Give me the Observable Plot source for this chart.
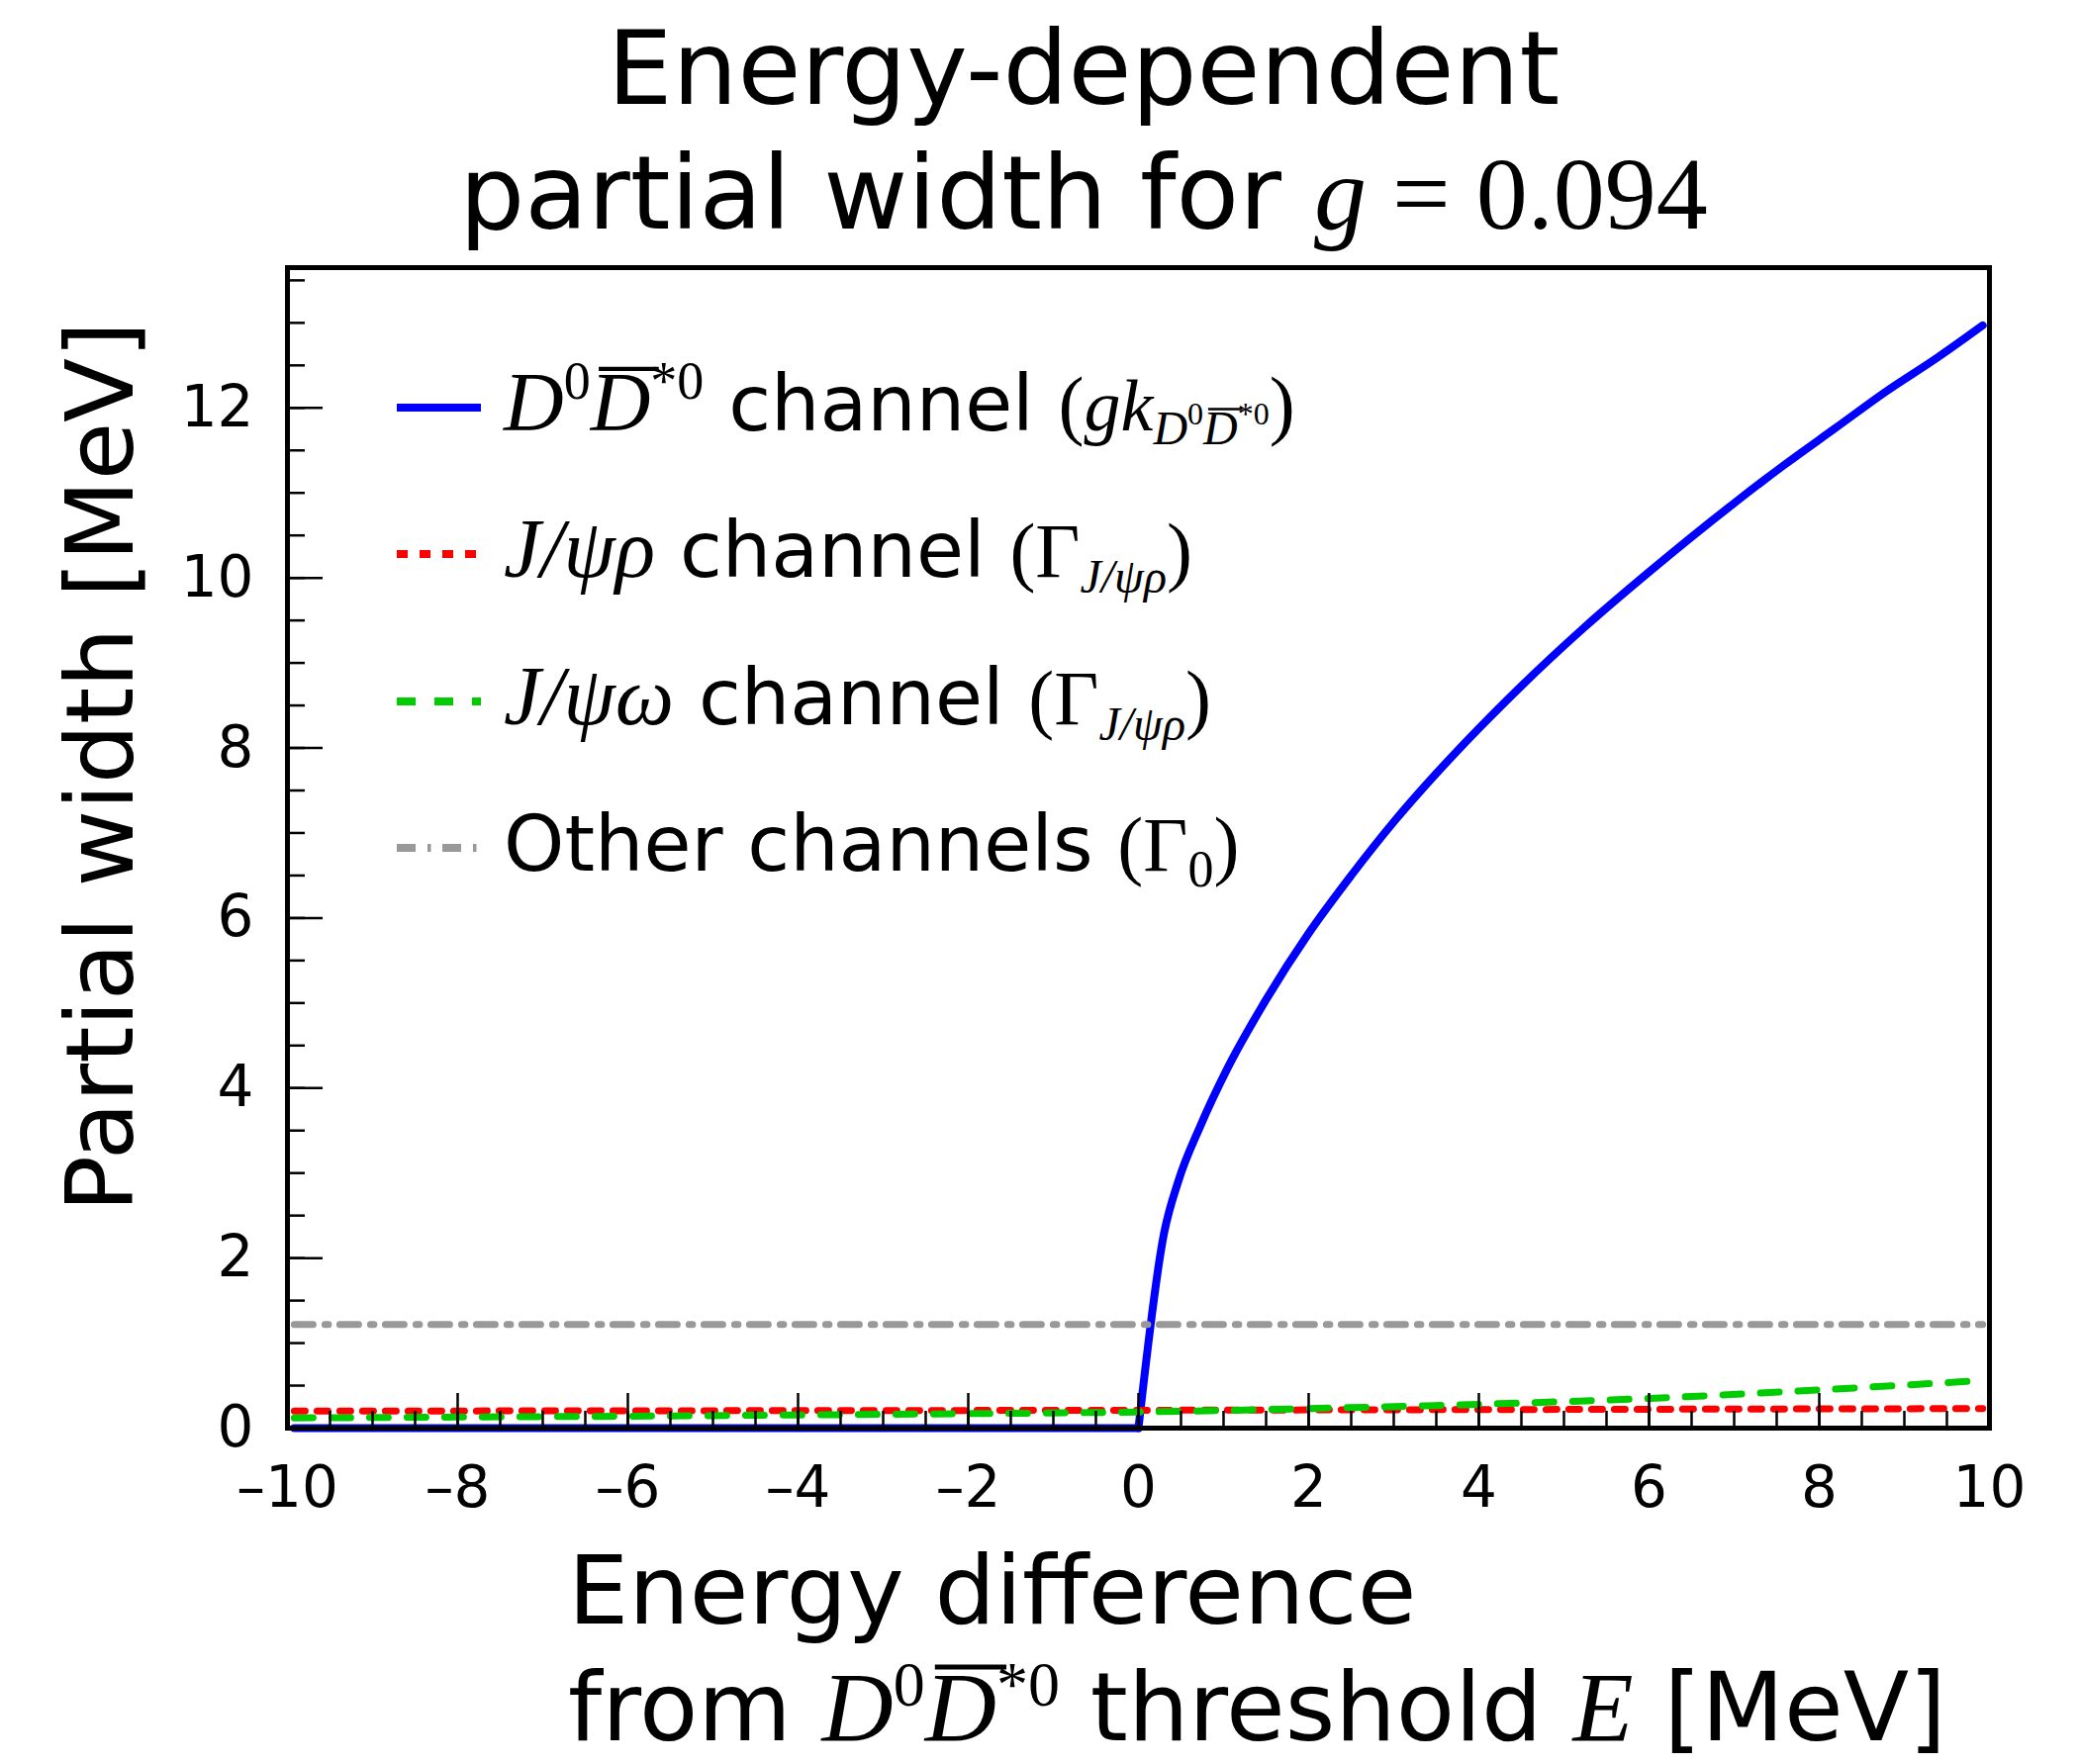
<!DOCTYPE html>
<html>
<head>
<meta charset="utf-8">
<script src="https://cdn.jsdelivr.net/npm/d3@7"></script>
<script src="https://cdn.jsdelivr.net/npm/@observablehq/plot@0.6"></script>
<style>
  html, body { margin: 0; padding: 0; background: white; }
  #chart svg { display: block; }
</style>
</head>
<body>
<div id="chart"></div>
<script>
// ---- data ----
const energyD = [-9.92, 0, 0.3, 0.47, 0.73, 1.05, 1.5, 2.0, 2.5, 3.0, 3.5, 4.0, 4.5, 5.23, 6.0, 7.0, 7.59, 8.2, 8.78, 9.4, 9.92];
const widthD  = [0, 0, 2.29, 2.91, 3.56, 4.24, 5.04, 5.82, 6.5, 7.13, 7.7, 8.23, 8.73, 9.41, 10.07, 10.88, 11.33, 11.77, 12.19, 12.6, 12.97];

const energyRho = [-9.92, -5, 0, 5, 9.92];
const widthRho  = [0.20, 0.205, 0.21, 0.22, 0.23];

const energyOmega = [-9.92, -8, -6, -4, -2, 0, 2, 4, 6, 8, 9.92];
const widthOmega  = [0.12, 0.13, 0.14, 0.155, 0.17, 0.19, 0.23, 0.28, 0.35, 0.45, 0.56];

const energyOther = [-9.92, 9.92];
const widthOther  = [1.22, 1.22];

const xTicks = [-10, -8, -6, -4, -2, 0, 2, 4, 6, 8, 10];
const yTicks = [0, 2, 4, 6, 8, 10, 12];
const xMinor = d3.range(-10, 10.001, 0.5);
const yMinor = d3.range(0, 13.6, 0.5);

// ---- layout ----
const W = 2102, H = 1783;
const mL = 290, mR = 92, mT = 270, mB = 340;
const fw = W - mL - mR, fh = H - mT - mB;

const SANS = "DejaVu Sans";
const SERIF = "Liberation Serif";

const blueStyle = {stroke: "#0000ff", strokeWidth: 8};

const plot = Plot.plot({
  width: W, height: H,
  marginLeft: mL, marginRight: mR, marginTop: mT, marginBottom: mB,
  x: {domain: [-10, 10]},
  y: {domain: [0, 13.65]},
  style: {fontFamily: SANS, background: "white", color: "black"},
  marks: [
    // below threshold (flat) and above threshold (rising) parts of the same series
    Plot.line(energyD, {x: energyD, y: widthD, filter: (d, i) => energyD[i] <= 0, ...blueStyle}),
    Plot.line(energyD, {x: energyD, y: widthD, filter: (d, i) => energyD[i] >= 0, curve: "monotone-x", ...blueStyle}),
    Plot.line(energyRho, {x: energyRho, y: widthRho, stroke: "#ff0000", strokeWidth: 7, strokeDasharray: "11,12"}),
    Plot.line(energyOmega, {x: energyOmega, y: widthOmega, curve: "monotone-x", stroke: "#00cc00", strokeWidth: 7, strokeDasharray: "19,19"}),
    Plot.line(energyOther, {x: energyOther, y: widthOther, stroke: "#999999", strokeWidth: 7, strokeDasharray: "19,12,3.5,11.5"}),
    Plot.tickX(xMinor, {x: d => d, insetTop: fh - 17, stroke: "black", strokeWidth: 2.5}),
    Plot.tickX(xTicks, {x: d => d, insetTop: fh - 35, stroke: "black", strokeWidth: 2.5}),
    Plot.tickY(yMinor, {y: d => d, insetRight: fw - 18, stroke: "black", strokeWidth: 2.5}),
    Plot.tickY(yTicks, {y: d => d, insetRight: fw - 36, stroke: "black", strokeWidth: 2.5}),
    Plot.frame({stroke: "black", strokeWidth: 5}),
    Plot.axisX(xTicks, {tickSize: 0, tickPadding: 38, fontSize: 58, fill: "black",
      tickFormat: d => d < 0 ? "\u2013" + (-d) : String(d)}),
    Plot.axisY(yTicks, {tickSize: 0, tickPadding: 34, fontSize: 58, fill: "black",
      tickFormat: d => String(d)})
  ]
});

document.getElementById("chart").appendChild(plot);
const svg = d3.select(plot);

// rich-text helper: parts = [{t, serif, it, size, shift(up px), over}]
function rich(x, y, anchor, parts, extra) {
  const g = svg.append("g");
  if (extra) extra(g);
  const t = g.append("text")
    .attr("x", x).attr("y", y)
    .attr("text-anchor", anchor)
    .attr("fill", "black")
    .style("white-space", "pre");
  let cur = 0;
  const overs = [];
  for (const p of parts) {
    const target = -(p.shift || 0);
    const ts = t.append("tspan")
      .text(p.t)
      .attr("font-family", p.serif ? SERIF : SANS)
      .attr("font-size", p.size)
      .attr("font-style", p.it ? "italic" : "normal");
    const dy = target - cur;
    if (dy !== 0) ts.attr("dy", dy);
    cur = target;
    if (p.over) overs.push({ts, size: p.size});
  }
  // draw overlines (bars) above the marked letters
  for (const o of overs) {
    const node = o.ts.node();
    const n = node.getNumberOfChars();
    const s = node.getStartPositionOfChar(0);
    const e = node.getEndPositionOfChar(n - 1);
    const yy = s.y - 0.74 * o.size;
    g.append("line")
      .attr("x1", s.x + 0.10 * o.size).attr("x2", e.x + 0.10 * o.size)
      .attr("y1", yy).attr("y2", yy)
      .attr("stroke", "black")
      .attr("stroke-width", Math.max(1.5, 0.05 * o.size));
  }
  return t;
}

// title
rich(1095, 105, "middle", [{t: "Energy-dependent", size: 104}]);
rich(1095, 231, "middle", [
  {t: "partial width for ", size: 104},
  {t: "g", serif: true, it: true, size: 106},
  {t: " = ", serif: true, size: 104},
  {t: "0.094", serif: true, size: 104}
]);

// y axis label
rich(0, 0, "middle", [{t: "Partial width [MeV]", size: 95}],
  g => g.attr("transform", "translate(134,775) rotate(-90)"));

// x axis label
rich(574, 1641, "start", [{t: "Energy difference", size: 97}]);
rich(574, 1759, "start", [
  {t: "from ", size: 97},
  {t: "D", serif: true, it: true, size: 100},
  {t: "0", serif: true, size: 64, shift: 35},
  {t: "D", serif: true, it: true, size: 100, over: true},
  {t: "*0", serif: true, size: 64, shift: 35},
  {t: " threshold ", size: 97},
  {t: "E", serif: true, it: true, size: 100},
  {t: " [MeV]", size: 97}
]);

// legend
const legendRows = [
  {y: 412, stroke: "#0000ff", dash: null, parts: [
    {t: "D", serif: true, it: true, size: 84},
    {t: "0", serif: true, size: 54, shift: 32},
    {t: "D", serif: true, it: true, size: 84, over: true},
    {t: "*0", serif: true, size: 54, shift: 32},
    {t: " channel ", size: 78},
    {t: "(", serif: true, size: 78},
    {t: "gk", serif: true, it: true, size: 74},
    {t: "D", serif: true, it: true, size: 48, shift: -14},
    {t: "0", serif: true, size: 32, shift: 6},
    {t: "D", serif: true, it: true, size: 48, shift: -14, over: true},
    {t: "*0", serif: true, size: 32, shift: 6},
    {t: ")", serif: true, size: 78}
  ]},
  {y: 560, stroke: "#ff0000", dash: "11,12", parts: [
    {t: "J/\u03c8\u03c1", serif: true, it: true, size: 84},
    {t: " channel ", size: 78},
    {t: "(\u0393", serif: true, size: 78},
    {t: "J/\u03c8\u03c1", serif: true, it: true, size: 48, shift: -16},
    {t: ")", serif: true, size: 78}
  ]},
  {y: 709, stroke: "#00cc00", dash: "19,19", parts: [
    {t: "J/\u03c8\u03c9", serif: true, it: true, size: 84},
    {t: " channel ", size: 78},
    {t: "(\u0393", serif: true, size: 78},
    {t: "J/\u03c8\u03c1", serif: true, it: true, size: 48, shift: -16},
    {t: ")", serif: true, size: 78}
  ]},
  {y: 857, stroke: "#999999", dash: "19,12,3.5,11.5", parts: [
    {t: "Other channels ", size: 78},
    {t: "(\u0393", serif: true, size: 78},
    {t: "0", serif: true, size: 52, shift: -16},
    {t: ")", serif: true, size: 78}
  ]}
];

for (const row of legendRows) {
  const ln = svg.append("line")
    .attr("x1", 401).attr("x2", 486)
    .attr("y1", row.y).attr("y2", row.y)
    .attr("stroke", row.stroke)
    .attr("stroke-width", 8);
  if (row.dash) ln.attr("stroke-dasharray", row.dash);
  rich(509, row.y + 23, "start", row.parts);
}
</script>
</body>
</html>
